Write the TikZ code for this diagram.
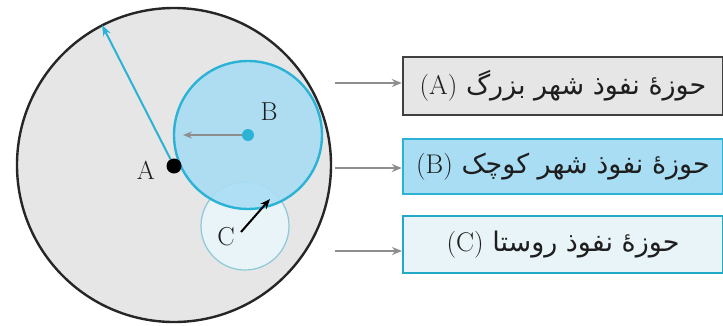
\documentclass[tikz,border=0pt]{standalone}
\usepackage{fontspec}
\usetikzlibrary{arrows.meta,positioning,calc}
\TeXXeTstate=1
\newfontfamily\arabicfont[Script=Arabic]{DejaVu Sans}
\definecolor{zonegray}{HTML}{E6E6E6}
\definecolor{cityblue}{HTML}{A9DDF4}
\definecolor{cityline}{HTML}{2BB3D6}
\definecolor{villfill}{HTML}{E9F4F9}
\definecolor{villline}{HTML}{8CC9D8}
\definecolor{linkgray}{HTML}{8E8E8E}
\definecolor{inkgray}{HTML}{1E1E1E}
\tikzset{zonebox/.style={rectangle,minimum width=320pt,inner sep=4pt,text=inkgray,
    font=\fontsize{27}{31}\arabicfont},
  link/.style={-{Stealth[length=10pt,width=8pt]},line width=2pt,draw=linkgray},
  lbl/.style={font=\fontsize{26}{30}\selectfont,text=inkgray}}

\begin{document}
\begin{tikzpicture}[x=1pt,y=-1pt]
\useasboundingbox (0,0) rectangle (723,325);
% the three zones
\draw[line width=2.4pt,draw=black!85,fill=zonegray] (174,165) circle (157);
\draw[line width=1.2pt,draw=villline,fill=villfill] (245,226) circle (44);
\draw[line width=2.4pt,draw=cityline,fill=cityblue,fill opacity=.9] (248,135) circle (74);
\coordinate (edgeA) at (102,25);
\coordinate (edgeB) at (183,135);
\coordinate (ctrC) at (241,232);
\coordinate (edgeC) at (270,199);
\node[circle,fill=black,inner sep=0pt,minimum size=15pt] (dotA) at (174,166) {};
\node[circle,fill=cityline,inner sep=0pt,minimum size=12pt] (dotB) at (248,135) {};
\node[lbl] (labA) at (146,170) {A};
\node[lbl] (labB) at (269,112) {B};
\node[lbl] (labC) at (226,237) {C};
\draw[line width=2pt,draw=cityline,-{Stealth[length=11pt,width=8pt]}] (dotA) -- (edgeA);
\draw[line width=1.6pt,draw=linkgray,-{Stealth[length=9pt,width=7pt]}] (dotB) -- (edgeB);
\draw[line width=2pt,draw=black,-{Stealth[length=10pt,width=8pt]}] (ctrC) -- (edgeC);
% legend boxes
\node[zonebox,draw=black!75,line width=2.4pt,fill=zonegray,minimum height=58pt] (boxA) at (563,86)
  {\beginR حوزهٔ نفوذ شهر بزرگ \beginL{\rmfamily(A)}\endL\endR};
\node[zonebox,draw=cityline,line width=2.4pt,fill=cityblue,minimum height=55pt] (boxB) at (563,166.5)
  {\beginR حوزهٔ نفوذ شهر کوچک \beginL{\rmfamily(B)}\endL\endR};
\node[zonebox,draw=cityline!80!teal,line width=2pt,fill=villfill,minimum height=57pt] (boxC) at (563,244.5)
  {\beginR حوزهٔ نفوذ روستا \beginL{\rmfamily(C)}\endL\endR};
\coordinate (fromA) at (335,83);
\coordinate (fromB) at (335,168);
\coordinate (fromC) at (335,251);
\draw[link] (fromA) -- (fromA -| boxA.west);
\draw[link] (fromB) -- (fromB -| boxB.west);
\draw[link] (fromC) -- (fromC -| boxC.west);
\end{tikzpicture}
\end{document}
